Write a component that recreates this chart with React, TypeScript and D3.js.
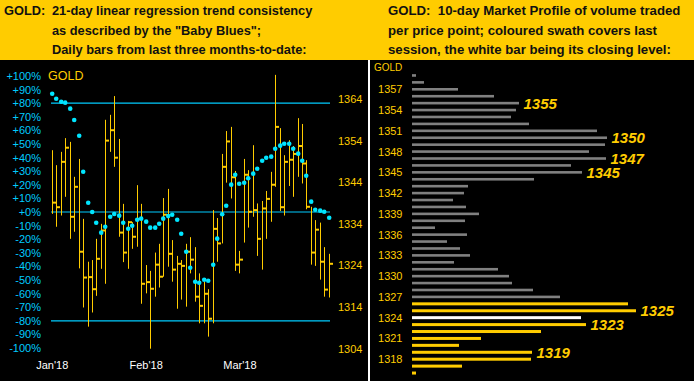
import React from "react";
import * as d3 from "d3";

// ---------- DATA ----------
const highs = [1351.7,1348.1,1351.3,1354.6,1353.7,1345.3,1349.6,1335.2,1324.9,1325.3,1330.4,1334.0,1359.0,1360.2,1364.7,1354.4,1338.8,1334.7,1334.4,1343.3,1338.8,1324.1,1322.7,1327.1,1329.2,1340.2,1342.4,1330.1,1326.3,1325.3,1329.2,1330.8,1328.4,1322.1,1320.1,1318.3,1337.3,1335.4,1350.8,1356.3,1357.3,1346.7,1327.5,1349.6,1346.9,1352.9,1338.9,1339.5,1341.9,1346.5,1369.8,1357.0,1350.5,1354.1,1352.7,1359.4,1358.0,1349.3,1338.1,1334.9,1334.3,1328.4,1326.8];
const lows = [1336.4,1333.3,1336.0,1340.5,1330.4,1332.1,1323.3,1313.9,1309.3,1312.7,1316.7,1323.2,1319.6,1351.3,1347.7,1330.9,1324.8,1323.2,1328.0,1328.5,1314.8,1317.3,1304.0,1316.5,1318.7,1321.3,1323.7,1320.1,1313.6,1315.8,1314.1,1322.1,1315.3,1310.1,1310.1,1306.9,1310.1,1324.9,1329.3,1343.9,1340.1,1322.7,1322.1,1329.5,1333.1,1335.7,1326.3,1323.0,1330.4,1334.5,1342.9,1337.1,1336.0,1343.1,1340.5,1345.3,1343.7,1337.5,1324.2,1323.9,1320.6,1316.5,1316.3];
const closes = [1339.1,1338.0,1348.9,1352.3,1335.7,1342.9,1327.3,1321.1,1321.2,1318.3,1325.6,1332.4,1354.0,1356.5,1349.9,1331.9,1327.1,1334.4,1330.9,1335.2,1319.6,1320.0,1318.4,1324.2,1321.3,1336.2,1326.8,1323.0,1324.4,1323.9,1327.3,1325.4,1316.5,1314.3,1317.2,1311.2,1332.8,1329.3,1347.7,1353.8,1345.2,1324.2,1325.4,1345.8,1336.9,1337.3,1330.4,1337.7,1340.0,1343.4,1357.3,1338.0,1348.9,1349.4,1350.8,1352.7,1348.5,1338.1,1327.1,1332.6,1324.9,1318.2,1324.4];
const trend = [87.0,83.3,81.1,80.4,76.0,67.6,56.1,29.6,6.8,0,-7.9,-15.2,-10.8,-3.5,-1.5,-2.7,-7.9,-12.3,-10.1,-5.7,-4.9,-7.1,-11.5,-11.5,-8.6,-4.9,-3.0,-2.0,-5.7,-16.0,-29.2,-41.0,-51.3,-52.0,-49.8,-50.5,-38.8,-19.6,-1.7,4.6,20.1,27.4,20.8,21.5,24.8,28.2,31.8,37.7,39.9,40.7,46.5,48.8,50.2,50.2,46.5,42.9,37.7,26.7,7.6,1.7,1.0,0.2,-4.2];
const monthLabels = ["Jan'18", "Feb'18", "Mar'18"];
const monthStartIdx = [0, 21, 42];
const pctTicks = d3.range(100, -101, -10);
const priceTicks = [1364, 1354, 1344, 1334, 1324, 1314, 1304];
const babyBlueLevels = [80, 0, -80];

const profilePrices = d3.range(1359, 1315, -1);
const profileVolumes = [4,12,46,82,107,104,99,117,185,195,193,177,194,159,170,122,56,52,41,54,67,53,23,55,35,48,58,42,86,97,100,121,148,216,224,169,174,129,69,47,120,119,50,4];
const profileTickLabels = [1357,1354,1351,1348,1345,1342,1339,1336,1333,1330,1327,1324,1321,1318];
const profileCallouts = [1355, 1350, 1347, 1345, 1325, 1323, 1319];

const leftTitle = ["21-day linear regression trend consistency", 'as described by the "Baby Blues";', "Daily bars from last three months-to-date:"];
const rightTitle = ["GOLD:\u00A0\u00A010-day Market Profile of volume traded", "per price point; coloured swath covers last", "session, the white bar being its closing level:"];

// ---------- STYLE ----------
const YELLOW = "#FFCC00";
const CYAN = "#00CCFF";
const DOT = "#00E5FF";
const FONT = "'Liberation Sans', Arial, sans-serif";

export default function App() {
  const W = 694, H = 381;
  const x = d3.scaleLinear().domain([0, highs.length - 1]).range([52.3, 329.3]);
  const yP = d3.scaleLinear().domain([1304, 1364]).range([348.7, 99]);
  const yPct = d3.scaleLinear().domain([-100, 100]).range([348, 76]);
  const bx = (i: number) => Math.floor(x(i)) + 0.5;

  const yProf = d3.scaleLinear().domain([1357, 1318]).range([89.3, 359.2]);
  const xVol = d3.scaleLinear().domain([0, 224]).range([412, 636]);

  const last = highs.length - 1;
  const swathLow = Math.floor(lows[last]);
  const swathHigh = Math.floor(highs[last]);
  const closeLevel = Math.floor(closes[last]);

  const volOf = (p: number) => profileVolumes[profilePrices.indexOf(p)];

  return (
    <svg width={W} height={H} style={{ position: "absolute", left: 0, top: 0, display: "block" }} fontFamily={FONT}>
      <rect x={0} y={0} width={W} height={H} fill="#000" />
      <rect x={0} y={0} width={W} height={60} fill={YELLOW} />
      {/* headers */}
      <g fontSize={12.8} fontWeight="bold" fill="#111">
        <text x={4} y={15}>GOLD:</text>
        {leftTitle.map((t, i) => (
          <text key={i} x={52} y={15 + i * 19.5}>{t}</text>
        ))}
      </g>
      <g fontSize={13.2} fontWeight="bold" fill="#111">
        {rightTitle.map((t, i) => (
          <text key={i} x={388} y={15 + i * 19.5}>{t}</text>
        ))}
      </g>
      {/* divider */}
      <rect x={368} y={60} width={2} height={H - 60} fill="#fff" />

      {/* left: percent axis */}
      <g fontSize={11} fill={CYAN} textAnchor="end">
        {pctTicks.map((v) => (
          <text key={v} x={41} y={yPct(v)} dominantBaseline="central">
            {(v >= 0 ? "+" : "") + v + "%"}
          </text>
        ))}
      </g>
      {/* price axis */}
      <g fontSize={11} fill={YELLOW}>
        {priceTicks.map((v) => (
          <text key={v} x={338} y={yP(v)} dominantBaseline="central">{v}</text>
        ))}
      </g>
      <text x={48} y={76} dominantBaseline="central" fontSize={12.5} fill={YELLOW}>GOLD</text>
      {/* months */}
      <g fontSize={11} fill="#fff" textAnchor="middle">
        {monthLabels.map((m, i) => (
          <text key={m} x={x(monthStartIdx[i])} y={365} dominantBaseline="central">{m}</text>
        ))}
      </g>
      {/* baby blues lines */}
      {babyBlueLevels.map((v) => (
        <line key={v} x1={51} x2={330} y1={yPct(v)} y2={yPct(v)} stroke={CYAN} strokeWidth={1.2} />
      ))}
      {/* bars */}
      <g stroke={YELLOW} fill="none">
        {highs.map((h, i) => (
          <g key={i}>
            <line x1={bx(i)} x2={bx(i)} y1={yP(h)} y2={yP(lows[i])} strokeWidth={1} />
            <line x1={bx(i)} x2={bx(i) + 3.5} y1={yP(closes[i])} y2={yP(closes[i])} strokeWidth={2} />
          </g>
        ))}
      </g>
      {/* trend dots */}
      <g fill={DOT}>
        {trend.map((v, i) => (
          <circle key={i} cx={bx(i) - 0.3} cy={yPct(v)} r={2.3} />
        ))}
      </g>

      {/* right: market profile */}
      <text x={374} y={67.5} dominantBaseline="central" fontSize={10} fill={YELLOW}>GOLD</text>
      <g fontSize={11} fill={YELLOW} textAnchor="end">
        {profileTickLabels.map((p) => (
          <text key={p} x={402.5} y={yProf(p)} dominantBaseline="central">{p}</text>
        ))}
      </g>
      <g>
        {profilePrices.map((p, i) => {
          const inSwath = p >= swathLow && p <= swathHigh;
          const fill = p === closeLevel ? "#fff" : inSwath ? YELLOW : "#808080";
          const h = inSwath ? 3 : 2.6;
          return (
            <rect key={p} x={xVol(0)} y={yProf(p) - h / 2} width={xVol(profileVolumes[i]) - xVol(0)} height={h} fill={fill} />
          );
        })}
      </g>
      <g fontSize={15} fontWeight="bold" fontStyle="italic" fill={YELLOW}>
        {profileCallouts.map((p) => (
          <text key={p} x={xVol(volOf(p)) + 4.5} y={yProf(p)} dominantBaseline="central">{p}</text>
        ))}
      </g>
    </svg>
  );
}
